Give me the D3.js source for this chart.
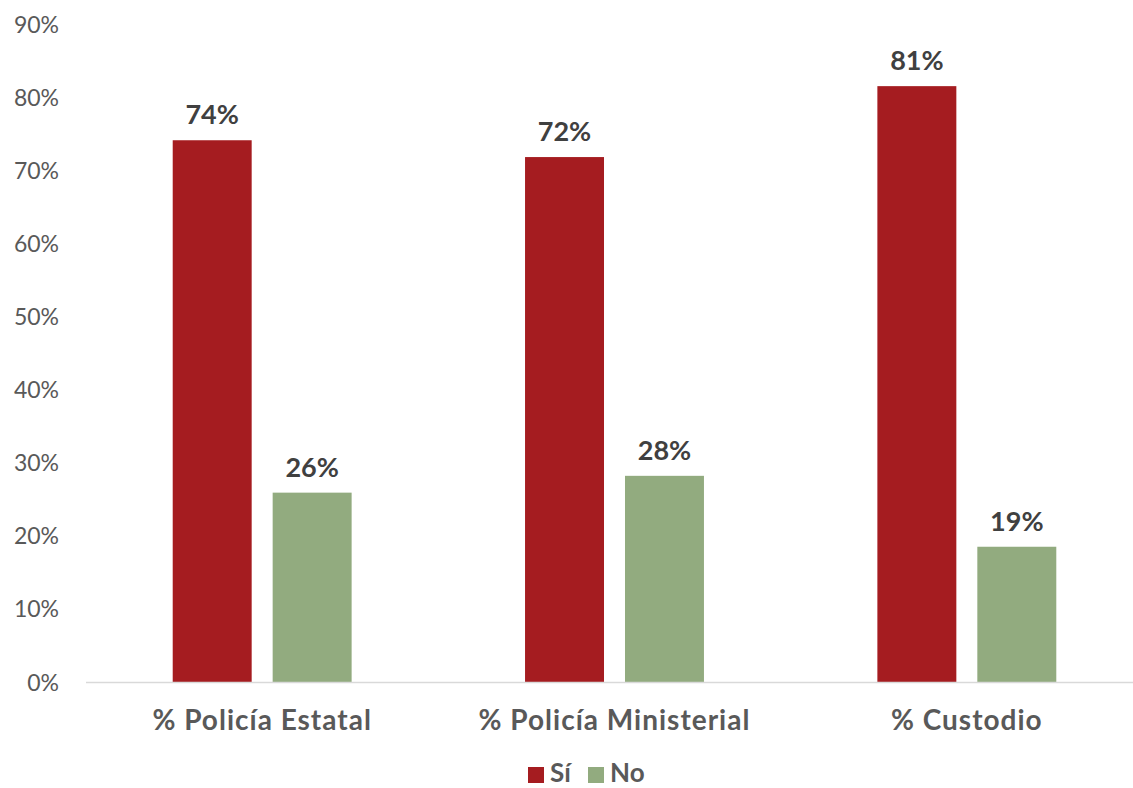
<!DOCTYPE html>
<html>
<head>
<meta charset="utf-8">
<script src="https://cdn.jsdelivr.net/npm/d3@7"></script>
<style>
  html, body { margin: 0; padding: 0; background: #fff; }
  svg { display: block; }
  text { font-family: Lato, "Open Sans", sans-serif; }
</style>
</head>
<body>
<svg id="chart" width="1133" height="788"></svg>
<script>
const categories = ["% Policía Estatal", "% Policía Ministerial", "% Custodio"];
const seriesNames = ["Sí", "No"];
const siValues = [74.1, 71.8, 81.5];
const noValues = [25.9, 28.2, 18.5];
const siLabels = ["74%", "72%", "81%"];
const noLabels = ["26%", "28%", "19%"];
const yTicks = [0, 10, 20, 30, 40, 50, 60, 70, 80, 90];
const colors = ["#A51C20", "#92AB7F"];

const svg = d3.select("#chart");
const W = 1133, H = 788;
const margin = { left: 86, right: -10, top: 24, bottom: 106 };
const plotRight = W - margin.right;
const baseY = H - margin.bottom;

const x = d3.scaleBand().domain(categories).range([margin.left, plotRight]).paddingInner(0).paddingOuter(0);
const y = d3.scaleLinear().domain([0, 90]).range([baseY, margin.top]);

const barW = x.bandwidth() * 79 / 352.5;
const gap = x.bandwidth() * 21 / 352.5;
const inner = d3.scaleBand().domain(seriesNames).range([0, 2 * barW + gap]).paddingInner(gap / (barW + gap)).paddingOuter(0);

// Y axis tick labels
const yAxis = d3.axisLeft(y).tickValues(yTicks).tickFormat(d => d + "%").tickSize(0).tickPadding(0);
const yg = svg.append("g").attr("transform", `translate(59,0)`).call(yAxis);
yg.select(".domain").remove();
yg.selectAll("text").attr("font-size", 23).attr("fill", "#595959").attr("font-family", "Lato, sans-serif").attr("dy", "0.35em");

// Bars
const rows = categories.map((c, i) => ({ cat: c, vals: [siValues[i], noValues[i]], labs: [siLabels[i], noLabels[i]] }));
const groupOffset = (x.bandwidth() - (2 * barW + gap)) / 2;
const groups = svg.append("g").selectAll("g").data(rows).join("g")
  .attr("transform", d => `translate(${x(d.cat) + groupOffset},0)`);

groups.selectAll("rect").data(d => d.vals.map((v, j) => ({ v, s: seriesNames[j], j, lab: d.labs[j] })))
  .join("rect")
  .attr("x", d => inner(d.s))
  .attr("y", d => y(d.v))
  .attr("width", inner.bandwidth())
  .attr("height", d => y(0) - y(d.v))
  .attr("fill", d => colors[d.j]);

groups.selectAll("text.lab").data(d => d.vals.map((v, j) => ({ v, s: seriesNames[j], j, lab: d.labs[j] })))
  .join("text").attr("class", "lab")
  .attr("x", d => inner(d.s) + inner.bandwidth() / 2)
  .attr("y", d => y(d.v) - 16)
  .attr("text-anchor", "middle")
  .attr("font-size", 27).attr("font-weight", 700).attr("fill", "#404040")
  .text(d => d.lab);

// X axis line
svg.append("line").attr("x1", margin.left).attr("x2", W).attr("y1", baseY + 0.5).attr("y2", baseY + 0.5)
  .attr("stroke", "#D9D9D9").attr("stroke-width", 1.5);

// Category labels
const xAxis = d3.axisBottom(x).tickSize(0).tickPadding(0);
const xg = svg.append("g").attr("transform", `translate(0,${baseY})`).call(xAxis);
xg.select(".domain").remove();
xg.selectAll("text").attr("font-size", 28).attr("font-weight", 700).attr("fill", "#595959")
  .attr("font-family", "Lato, sans-serif").attr("letter-spacing", 1).attr("dy", null).attr("y", 48);

// Legend
const legendX = [528, 588];
const lg = svg.append("g").selectAll("g").data(seriesNames).join("g")
  .attr("transform", (d, i) => `translate(${legendX[i]},767)`);
lg.append("rect").attr("width", 16).attr("height", 16).attr("fill", (d, i) => colors[i]);
lg.append("text").attr("x", 22).attr("y", 15).attr("font-size", 26).attr("font-weight", 700)
  .attr("fill", "#595959").text(d => d);
</script>
</body>
</html>
